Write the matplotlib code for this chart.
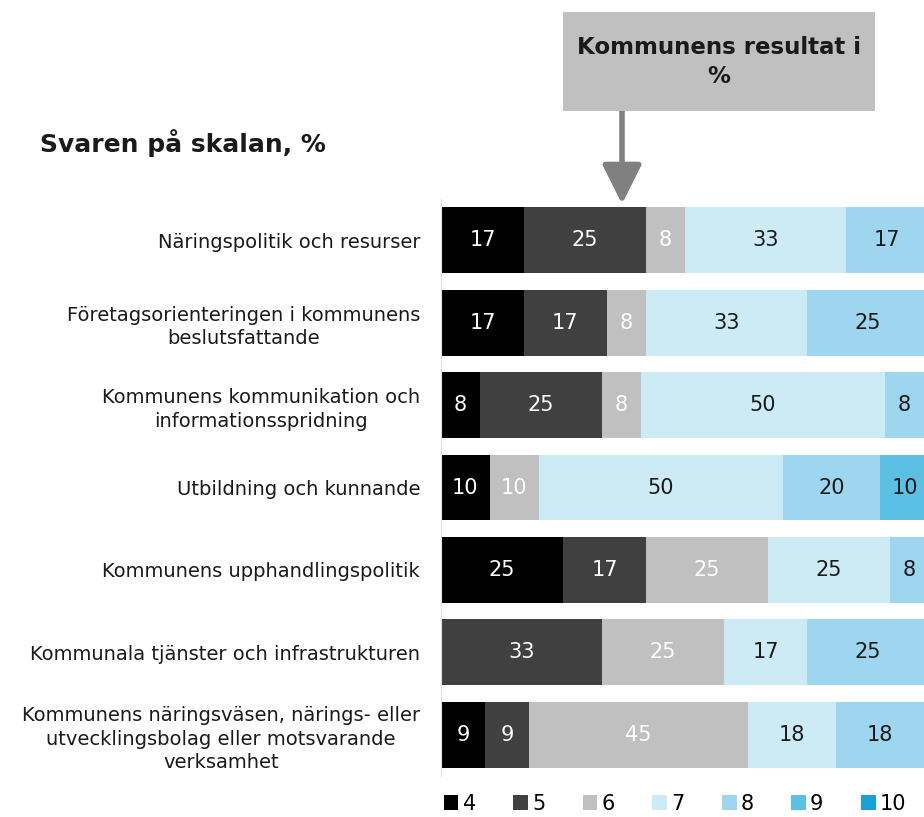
import matplotlib
matplotlib.use("Agg")
import matplotlib.pyplot as plt
from matplotlib.patches import Rectangle, Patch, FancyArrowPatch
import numpy as np

categories = [
    "Näringspolitik och resurser",
    "Företagsorienteringen i kommunens\nbeslutsfattande",
    "Kommunens kommunikation och\ninformationsspridning",
    "Utbildning och kunnande",
    "Kommunens upphandlingspolitik",
    "Kommunala tjänster och infrastrukturen",
    "Kommunens näringsväsen, närings- eller\nutvecklingsbolag eller motsvarande\nverksamhet",
]
scale = ["4", "5", "6", "7", "8", "9", "10"]
s4 = [17, 17, 8, 10, 25, 0, 9]
s5 = [25, 17, 25, 0, 17, 33, 9]
s6 = [8, 8, 8, 10, 25, 25, 45]
s7 = [33, 33, 50, 50, 25, 17, 18]
s8 = [17, 25, 8, 20, 8, 25, 18]
s9 = [0, 0, 0, 10, 0, 0, 0]
s10 = [0, 0, 0, 0, 0, 0, 0]
series = [s4, s5, s6, s7, s8, s9, s10]

colors = ["#000000", "#404040", "#c0c0c0", "#cdebf5", "#9dd6ee", "#5cbfe4", "#1a9fd6"]
text_colors = ["white", "white", "white", "#1a1a1a", "#1a1a1a", "#1a1a1a", "#1a1a1a"]

plt.rcParams["font.family"] = ["DejaVu Sans"]

fig = plt.figure(figsize=(9.24, 8.17), dpi=100)
ax = fig.add_axes([441 / 924, 1 - 776 / 817, 1 - 441 / 924, 577 / 817])

y = np.arange(len(categories))
left = np.zeros(len(categories))
for vals, c, tc, name in zip(series, colors, text_colors, scale):
    vals = np.array(vals, dtype=float)
    ax.barh(y, vals, left=left, height=0.8, color=c, label=name)
    for yi, (l, v) in enumerate(zip(left, vals)):
        if v > 0:
            ax.text(l + v / 2, yi, f"{int(v)}", ha="center", va="center",
                    color=tc, fontsize=15)
    left += vals

ax.set_xlim(0, 99)
ax.set_ylim(len(categories) - 0.5, -0.5)
ax.set_yticks(y)
ax.set_yticklabels(categories, fontsize=14, multialignment="center",
                   color="#1a1a1a", linespacing=1.3)
ax.tick_params(axis="y", length=0, pad=15)
ax.set_xticks([])
for s in ["top", "right", "bottom"]:
    ax.spines[s].set_visible(False)
ax.spines["left"].set_color("#e0e0e0")

fig.text(40 / 924, 1 - 143 / 817, "Svaren på skalan, %", fontsize=18,
         fontweight="bold", va="center", ha="left", color="#1a1a1a")

# annotation box + arrow
fig.patches.append(Rectangle((563 / 924, 1 - 111 / 817), 312 / 924, 99 / 817,
                             transform=fig.transFigure, facecolor="#c0c0c0",
                             edgecolor="none"))
fig.text(719 / 924, 1 - 62 / 817, "Kommunens resultat i\n%", fontsize=16.5,
         fontweight="bold", ha="center", va="center", color="#1a1a1a",
         multialignment="center", linespacing=1.35)
fig.add_artist(FancyArrowPatch(
    (622 / 924, 1 - 111 / 817), (622 / 924, 1 - 204 / 817),
    transform=fig.transFigure, arrowstyle="-|>,head_length=12,head_width=6",
    color="#808080", lw=4, mutation_scale=2, shrinkA=0, shrinkB=0))

handles = [Patch(facecolor=c) for c in colors]
fig.legend(handles, scale, loc="center", bbox_to_anchor=(675 / 924, 1 - 804 / 817),
           ncol=7, frameon=False, fontsize=15, handlelength=0.7, handleheight=0.7,
           handletextpad=0.2, columnspacing=1.8)

fig.savefig("out.png", dpi=100)
